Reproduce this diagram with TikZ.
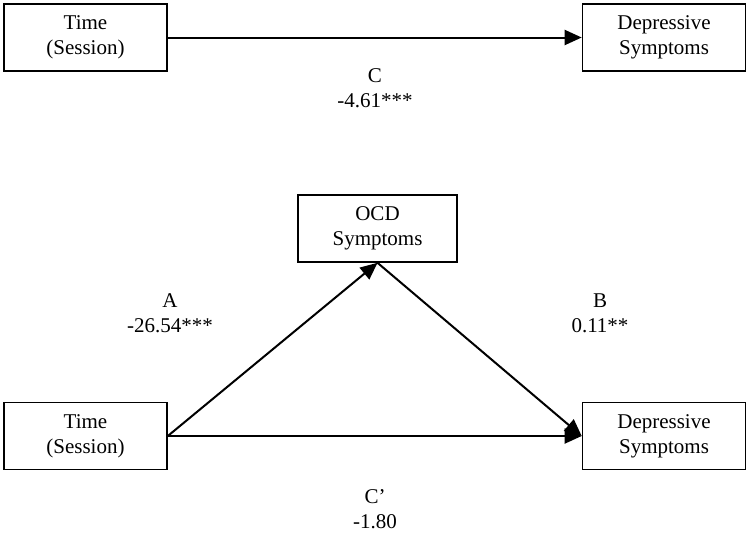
\documentclass[tikz,border=0pt]{standalone}
\usepackage{fontspec}
\setmainfont{Liberation Serif}
\usetikzlibrary{arrows.meta}
\begin{document}
\begin{tikzpicture}[x=1pt,y=-1pt,
  box/.style={draw,line width=1.6pt,minimum width=163pt,minimum height=67pt,align=center,font=\fontsize{21}{25}\selectfont,inner sep=0pt},
  lbl/.style={align=center,font=\fontsize{21}{25}\selectfont},
  arr/.style={line width=2pt,-{Triangle[length=17pt,width=15pt]}}]
\useasboundingbox (0,0) rectangle (750,533);
\node[box] (t1) at (85.5,37.5) {Time\\(Session)};
\node[box] (d1) at (664,37.5) {Depressive\\Symptoms};
\node[box,minimum width=159pt] (ocd) at (377.5,228.5) {OCD\\Symptoms};
\node[box] (t2) at (85.5,436) {Time\\(Session)};
\node[box] (d2) at (664,436) {Depressive\\Symptoms};
\draw[arr] (t1.east) -- (d1.west);
\draw[arr] (t2.east) -- (d2.west);
\draw[arr] (t2.east) -- (ocd.south);
\draw[arr] (ocd.south) -- (d2.west);
\node[lbl] (lc) at (375,88) {C\\-4.61***};
\node[lbl] (la) at (170,313) {A\\-26.54***};
\node[lbl] (lb) at (600,313) {B\\0.11**};
\node[lbl] (lcp) at (375,509) {C’\\-1.80};
\end{tikzpicture}
\end{document}
